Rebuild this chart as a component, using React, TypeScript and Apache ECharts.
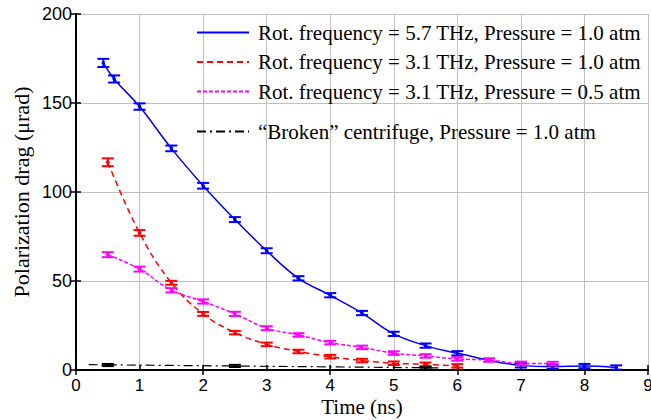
import React, { useEffect, useRef } from "react";
import * as echarts from "echarts";

const seriesNames = [
  "Rot. frequency = 5.7 THz, Pressure = 1.0 atm",
  "Rot. frequency = 3.1 THz, Pressure = 1.0 atm",
  "Rot. frequency = 3.1 THz, Pressure = 0.5 atm",
  "\u201cBroken\u201d centrifuge, Pressure = 1.0 atm",
];

const blueX = [0.43, 0.6, 1, 1.5, 2, 2.5, 3, 3.5, 4, 4.5, 5, 5.5, 6, 7, 7.5, 8, 8.5];
const blueY = [172.5, 163.5, 148, 124.5, 103.5, 84.5, 67, 51.5, 42, 32, 20.3, 13.7, 9.4, 2.6, 1.9, 2.2, 1.4];
const blueErr = [2.3, 2.0, 1.8, 1.6, 1.6, 1.4, 1.4, 1.2, 1.2, 1.2, 1.2, 1.2, 1.2, 1.2, 1.2, 1.2, 1.2];

const redX = [0.5, 1, 1.5, 2, 2.5, 3, 3.5, 4, 4.5, 5, 5.5, 6];
const redY = [116.7, 77, 49, 31.5, 21, 14.4, 10.4, 7.5, 5.3, 3.8, 3.2, 2.3];
const redErr = [2.2, 1.6, 1.1, 1.1, 1.0, 1.0, 1.0, 1.0, 1.0, 1.0, 1.0, 1.0];

const magX = [0.5, 1, 1.5, 2, 2.5, 3, 3.5, 4, 4.5, 5, 5.5, 6, 6.5, 7, 7.5];
const magY = [64.8, 56.7, 44.8, 38.5, 31.5, 23.5, 19.7, 15.4, 12.7, 9.5, 7.9, 6.2, 5.6, 3.7, 3.6];
const magErr = [1.4, 1.4, 1.2, 1.2, 1.2, 1.1, 1.0, 1.0, 1.0, 1.0, 1.0, 1.0, 1.0, 1.0, 1.0];

const blackX = [0.5, 2.5, 5.5];
const blackY = [2.8, 2.3, 1.0];
const blackErr = [0.6, 0.6, 0.6];
const blackFitX = [0.2, 5.7];
const blackFitY = [3.0, 1.2];

const xTicks = { min: 0, max: 9, interval: 1 };
const yTicks = { min: 0, max: 200, interval: 50 };

const zip = (xs: number[], ys: number[]) => xs.map((x, i) => [x, ys[i]]);
const zip3 = (xs: number[], ys: number[], es: number[]) => xs.map((x, i) => [x, ys[i], es[i]]);

function errorSeries(data: number[][], color: string) {
  return {
    type: "custom",
    xAxisIndex: 0,
    yAxisIndex: 0,
    z: 5,
    silent: true,
    data,
    renderItem: (params: any, api: any) => {
      const x = api.value(0);
      const y = api.value(1);
      const e = api.value(2);
      const c = api.coord([x, y]);
      const hi = api.coord([x, y + e]);
      const lo = api.coord([x, y - e]);
      const hw = 6;
      const style = { stroke: color, lineWidth: 2 };
      return {
        type: "group",
        children: [
          { type: "line", shape: { x1: c[0], y1: hi[1], x2: c[0], y2: lo[1] }, style },
          { type: "line", shape: { x1: c[0] - hw, y1: hi[1], x2: c[0] + hw, y2: hi[1] }, style },
          { type: "line", shape: { x1: c[0] - hw, y1: lo[1], x2: c[0] + hw, y2: lo[1] }, style },
          { type: "circle", shape: { cx: c[0], cy: c[1], r: 1.8 }, style: { fill: color } },
        ],
      };
    },
  };
}

export default function App() {
  const ref = useRef<HTMLDivElement>(null);
  useEffect(() => {
    document.body.style.margin = "0";
    if (!ref.current) return;
    const chart = echarts.init(ref.current, undefined, { renderer: "svg" });
    const serif = "Liberation Serif";
    const sans = "Liberation Sans";
    const axisLine = { show: true, lineStyle: { color: "#000", width: 2 } };
    const legendText = { fontFamily: serif, fontSize: 21, color: "#000", lineHeight: 20, padding: [0, 0, 0, 4] };
    const legendCommon = {
      orient: "vertical",
      left: 191,
      itemWidth: 52,
      itemHeight: 14,
      itemGap: 8.5,
      selectedMode: false,
      itemStyle: { opacity: 0 },
      textStyle: legendText,
    };
    chart.setOption({
      animation: false,
      backgroundColor: "#fff",
      grid: { left: 76, right: 3, top: 14, bottom: 50, containLabel: false, outerBoundsMode: "none" },
      legend: [
        { ...legendCommon, data: seriesNames.slice(0, 3), top: 17 },
        { ...legendCommon, data: seriesNames.slice(3), top: 116 },
      ],
      xAxis: [
        {
          type: "value",
          position: "bottom",
          ...xTicks,
          name: "Time (ns)",
          nameLocation: "middle",
          nameGap: 26,
          nameMoveOverlap: false,
          nameTextStyle: { fontFamily: serif, fontSize: 21, color: "#000", lineHeight: 21 },
          axisLine,
          axisTick: { show: true, inside: true, length: 5, lineStyle: { color: "#000", width: 1.5 } },
          axisLabel: { fontFamily: sans, fontSize: 17, lineHeight: 17, color: "#000", margin: 7 },
          splitLine: { show: true, lineStyle: { color: "#c0c0c0", width: 1 } },
        },
        {
          type: "value",
          position: "top",
          min: 0,
          max: 9,
          interval: 2,
          axisLine,
          axisTick: { show: true, inside: true, length: 5, lineStyle: { color: "#000", width: 1.5 } },
          axisLabel: { show: false },
          splitLine: { show: false },
        },
      ],
      yAxis: [
        {
          type: "value",
          position: "left",
          ...yTicks,
          name: "Polarization drag (\u03bcrad)",
          nameLocation: "middle",
          nameGap: 44,
          nameMoveOverlap: false,
          nameTextStyle: { fontFamily: serif, fontSize: 22, color: "#000" },
          axisLine,
          axisTick: { show: true, inside: true, length: 5, lineStyle: { color: "#000", width: 1.5 } },
          axisLabel: { fontFamily: sans, fontSize: 18, color: "#000", margin: 4 },
          splitLine: { show: true, lineStyle: { color: "#c0c0c0", width: 1 } },
        },
        {
          type: "value",
          position: "right",
          ...yTicks,
          axisLine,
          axisTick: { show: true, inside: true, length: 5, lineStyle: { color: "#000", width: 1.5 } },
          axisLabel: { show: false },
          splitLine: { show: false },
        },
      ],
      series: [
        {
          name: seriesNames[0],
          type: "line",
          data: zip(blueX, blueY),
          smooth: 0.4,
          symbol: "none",
          lineStyle: { color: "#0000ff", width: 1.5, type: "solid" },
          itemStyle: { color: "#0000ff" },
          z: 3,
        },
        {
          name: seriesNames[1],
          type: "line",
          data: zip(redX, redY),
          smooth: 0.4,
          symbol: "none",
          lineStyle: { color: "#ff0000", width: 1.5, type: [6, 4] },
          itemStyle: { color: "#ff0000" },
          z: 3,
        },
        {
          name: seriesNames[2],
          type: "line",
          data: zip(magX, magY),
          smooth: 0.4,
          symbol: "none",
          lineStyle: { color: "#ff00ff", width: 1.5, type: [4, 2] },
          itemStyle: { color: "#ff00ff" },
          z: 3,
        },
        {
          name: seriesNames[3],
          type: "line",
          data: zip(blackFitX, blackFitY),
          symbol: "none",
          lineStyle: { color: "#000000", width: 1.2, type: [9, 4, 2, 4] },
          itemStyle: { color: "#000000" },
          z: 3,
        },
        errorSeries(zip3(blueX, blueY, blueErr), "#0000ff"),
        errorSeries(zip3(redX, redY, redErr), "#ff0000"),
        errorSeries(zip3(magX, magY, magErr), "#ff00ff"),
        errorSeries(zip3(blackX, blackY, blackErr), "#000000"),
      ],
    });
    return () => chart.dispose();
  }, []);
  return <div ref={ref} style={{ width: 651, height: 420 }} />;
}
